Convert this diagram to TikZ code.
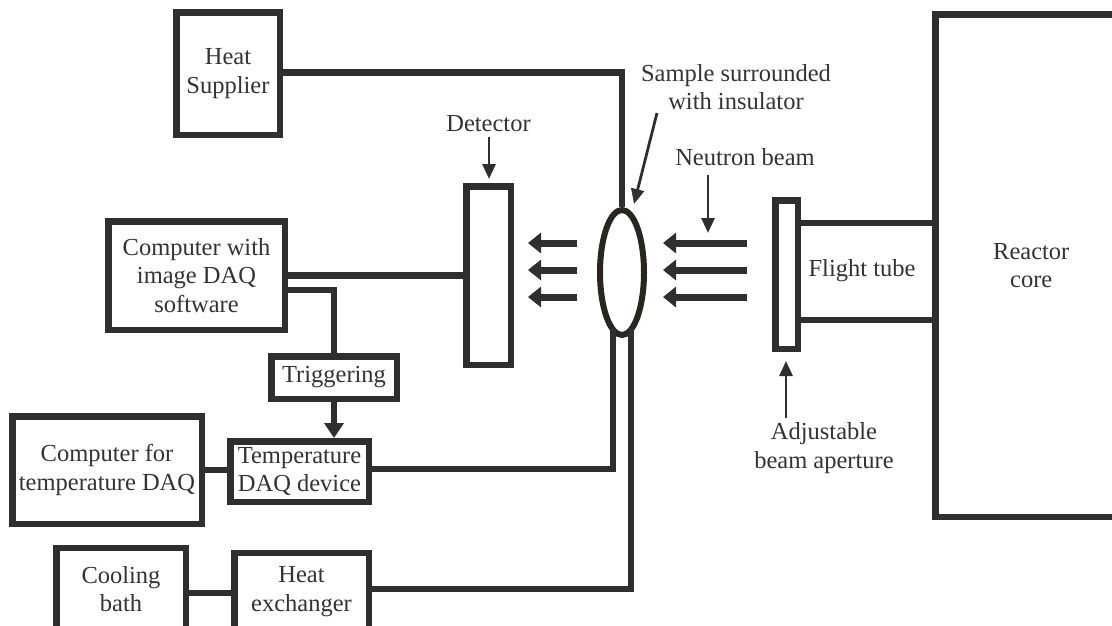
\documentclass[tikz,border=0pt]{standalone}
\usepackage{fontspec}
\setmainfont{Liberation Serif}
\usetikzlibrary{arrows.meta,shapes.geometric}
\definecolor{ink}{HTML}{2F2F2F}
\definecolor{txt}{HTML}{333333}
\definecolor{ellc}{HTML}{2B251F}
\begin{document}
\begin{tikzpicture}[x=1pt,y=-1pt,
  txtfont/.style={font=\fontsize{24.5}{28.5}\selectfont},
  box/.style={draw=ink,line width=6.5pt,rectangle,inner sep=0pt,align=center,text=txt,txtfont},
  wire/.style={draw=ink,line width=6.5pt},
  lbl/.style={text=txt,txtfont,align=center,inner sep=0pt},
  ptr/.style={draw=ink,line width=2.8pt,-{Triangle[width=13pt,length=15pt]}},
  beam/.style={draw=ink,line width=7pt,-{Triangle[width=20pt,length=13pt]}},
  trigarrow/.style={draw=ink,line width=6.5pt,-{Triangle[width=19pt,length=15pt]}},
]
\useasboundingbox (0,0) rectangle (1112,625);
\clip (0,0) rectangle (1112,625);

% boxes
\node[box,minimum width=103.5pt,minimum height=122.5pt] (hs) at (228,73.5) {Heat\\Supplier};
\node[box,minimum width=176.5pt,minimum height=108.5pt] (cimg) at (196.5,275.5) {Computer with\\image DAQ\\software};
\node[box,minimum width=44.5pt,minimum height=178.5pt] (det) at (488.5,275.5) {};
\node[box,minimum width=125.5pt,minimum height=42.5pt] (trig) at (334,377.5) {Triggering};
\node[box,minimum width=189.5pt,minimum height=107.5pt] (ctemp) at (107,470) {Computer for\\temperature DAQ};
\node[box,minimum width=138.5pt,minimum height=60.5pt] (tdaq) at (299.5,471.5) {Temperature\\DAQ device};
\node[box,minimum width=129.5pt,minimum height=81.75pt] (cool) at (121,589.1) {Cooling\\bath};
\node[box,minimum width=134.5pt,minimum height=76.75pt] (hex) at (301.5,591.6) {Heat\\exchanger};
\node[box,minimum width=22.5pt,minimum height=148.5pt] (ap) at (786.5,274.5) {};
\node[box,minimum width=191.5pt,minimum height=502.5pt] (core) at (1031.25,265.75) {Reactor\\core};
\node[draw=ellc,line width=6pt,ellipse,minimum width=44pt,minimum height=125pt,inner sep=0pt] (ell) at (622,272.5) {};

% labels
\node[lbl] (lsample) at (736,87) {Sample surrounded\\with insulator};
\node[lbl] (lneutron) at (745,157) {Neutron beam};
\node[lbl] (ldet) at (488.5,124) {Detector};
\node[lbl] (lap) at (824,448) {Adjustable\\beam aperture};
\node[lbl] (lflight) at (862,271) {Flight tube};

% coordinates
\coordinate (eL) at (613,328);
\coordinate (eR) at (631,328);
\coordinate (sptail) at (657,113);
\coordinate (sphead) at (634,204);
\coordinate (nbtail) at (708,175);
\coordinate (nbhead) at (708,233);
\coordinate (dettail) at (489,137);
\coordinate (dethead) at (489,179);
\coordinate (aptail) at (786,418);
\coordinate (aphead) at (786,361);

% wires
\draw[wire] (hs.east |- 0,72.5) -| (ell.north);
\draw[wire] (cimg.east |- 0,275.5) -- (det.west |- 0,275.5);
\draw[wire] (cimg.east |- 0,290) -| (trig.north);
\draw[trigarrow] (trig.south) -- (trig.south |- tdaq.north);
\draw[wire] (ctemp.east |- 0,470) -- (tdaq.west |- 0,470);
\draw[wire] (tdaq.east |- 0,469) -| (eL);
\draw[wire] (cool.east |- 0,593) -- (hex.west |- 0,593);
\draw[wire] (hex.east |- 0,589) -| (eR);
\draw[wire] (ap.east |- 0,223) -- (core.west |- 0,223);
\draw[wire] (ap.east |- 0,320) -- (core.west |- 0,320);

% beam arrows
\foreach \yy in {243,270,297}{
  \draw[beam] (747,\yy) -- (663,\yy);
  \draw[beam] (577,\yy) -- (528,\yy);
}

% pointers
\draw[ptr] (sptail) -- (sphead);
\draw[ptr] (nbtail) -- (nbhead);
\draw[ptr] (dettail) -- (dethead);
\draw[ptr] (aptail) -- (aphead);
\end{tikzpicture}
\end{document}
